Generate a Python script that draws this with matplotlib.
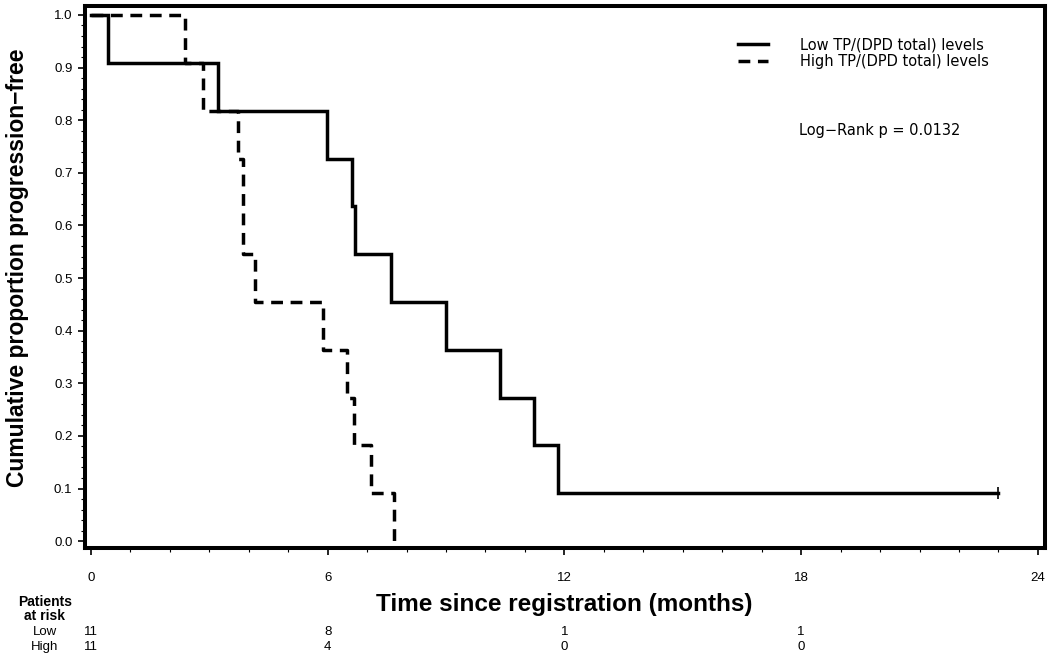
import matplotlib
matplotlib.use("Agg")
import matplotlib.pyplot as plt
import matplotlib.transforms as mtransforms
from matplotlib.ticker import MultipleLocator

plt.rcParams['font.family'] = ['Liberation Sans', 'DejaVu Sans']

# Kaplan-Meier step data
low_t = [0, 0.43, 3.22, 5.98, 6.62, 6.70, 7.60, 9.00, 10.38, 11.23, 11.83, 23.0]
low_s = [1.0, 0.909, 0.818, 0.727, 0.636, 0.545, 0.455, 0.364, 0.273, 0.182, 0.091, 0.091]
high_t = [0, 2.38, 2.84, 3.73, 3.86, 4.16, 5.87, 6.50, 6.68, 7.11, 7.67]
high_s = [1.0, 0.909, 0.818, 0.727, 0.545, 0.455, 0.364, 0.273, 0.182, 0.091, 0.0]
censor_t = [23.0]
censor_s = [0.091]

group_labels = ["Low TP/(DPD total) levels", "High TP/(DPD total) levels"]
risk_groups = ["Low", "High"]
risk_times = [0, 6, 12, 18]
risk_low = [11, 8, 1, 1]
risk_high = [11, 4, 0, 0]
x_ticks = [0, 6, 12, 18, 24]
y_ticks = [0.0, 0.1, 0.2, 0.3, 0.4, 0.5, 0.6, 0.7, 0.8, 0.9, 1.0]
pvalue_text = "Log\u2212Rank p = 0.0132"

W, H = 1050, 655
fig = plt.figure(figsize=(W / 100, H / 100), dpi=100)
ax = fig.add_axes([85 / W, 1 - 548 / H, (1045 - 85) / W, (548 - 6) / H])

ax.step(low_t, low_s, where='post', color='black', lw=2.5, label=group_labels[0],
        solid_joinstyle='miter')
ax.step(high_t, high_s, where='post', color='black', lw=2.5, linestyle=(0, (3.4, 2.2)),
        label=group_labels[1])
ax.plot(censor_t, censor_s, marker='|', color='black', markersize=9, markeredgewidth=1.2,
        linestyle='none')

ax.set_xlim(-0.15, 24.18)
ax.set_ylim(-0.013, 1.017)
ax.set_xticks(x_ticks)
ax.set_xticklabels([str(t) for t in x_ticks])
ax.xaxis.set_minor_locator(MultipleLocator(1))
ax.set_yticks(y_ticks)
ax.set_yticklabels([f"{v:.1f}" for v in y_ticks])
ax.yaxis.set_minor_locator(MultipleLocator(0.02))

for sp in ax.spines.values():
    sp.set_linewidth(2.9)

ax.tick_params(axis='both', which='major', direction='out', length=5, width=1.2,
               labelsize=9.5, colors='black')
ax.tick_params(axis='both', which='minor', direction='out', length=3, width=0.8)
ax.tick_params(axis='x', which='major', pad=12)
ax.tick_params(axis='y', which='major', pad=4)

fig.text(18 / W, 1 - 268 / H, "Cumulative proportion progression\u2212free", fontsize=16.5,
         fontweight='bold', rotation=90, ha='center', va='center')
fig.text(564 / W, 1 - 605 / H, "Time since registration (months)", fontsize=17.5,
         fontweight='bold', ha='center', va='center')

leg = ax.legend(loc='upper left', bbox_to_anchor=(738 / W, 1 - 37 / H),
                bbox_transform=fig.transFigure, frameon=False,
                prop={'family': 'DejaVu Sans', 'size': 10.5},
                handlelength=2.05, handletextpad=2.2, labelspacing=0.12,
                borderpad=0, borderaxespad=0)

fig.text(880 / W, 1 - 130 / H, pvalue_text, family='DejaVu Sans', fontsize=10.5,
         ha='center', va='center')

# Patients at risk table
trans = mtransforms.blended_transform_factory(ax.transData, fig.transFigure)
fig.text(45 / W, 1 - 602 / H, "Patients", fontsize=10, fontweight='bold', ha='center', va='center')
fig.text(45 / W, 1 - 616 / H, "at risk", fontsize=10, fontweight='bold', ha='center', va='center')
row_y = [1 - 632 / H, 1 - 647 / H]
for lab, yy, vals in zip(risk_groups, row_y, [risk_low, risk_high]):
    fig.text(45 / W, yy, lab, fontsize=9.5, ha='center', va='center')
    for t, v in zip(risk_times, vals):
        ax.text(t, yy, str(v), transform=trans, fontsize=9.5, ha='center', va='center')

fig.savefig("out.png", dpi=100)
